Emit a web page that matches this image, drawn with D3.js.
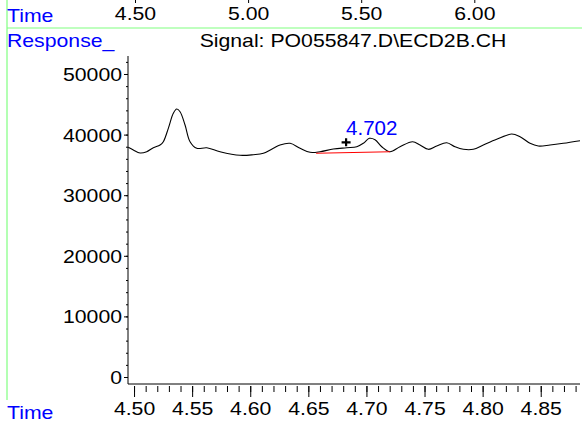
<!DOCTYPE html>
<html>
<head>
<meta charset="utf-8">
<title>ECD2B</title>
<script src="https://cdn.jsdelivr.net/npm/d3@7"></script>
<style>
  body { margin: 0; background: #fff; }
  text { font-family: "Liberation Sans", Arial, sans-serif; }
</style>
</head>
<body>
<div id="viz"></div>
<script>
// retention time (min) and detector response
var times = [4.495, 4.4994, 4.5052, 4.5109, 4.5166, 4.5224, 4.5252, 4.5295, 4.5338, 4.5367,
  4.5396, 4.5439, 4.5482, 4.5540, 4.5626, 4.5740, 4.5912, 4.6027, 4.6113, 4.6199,
  4.6256, 4.6343, 4.6429, 4.6515, 4.6601, 4.6715, 4.6830, 4.6917, 4.6973, 4.7025,
  4.7074, 4.7132, 4.7203, 4.7289, 4.7398, 4.7461, 4.7533, 4.7605, 4.7691, 4.7762,
  4.7834, 4.7920, 4.8006, 4.8121, 4.8250, 4.8322, 4.8408, 4.8479, 4.8580, 4.8694, 4.8838];
var response = [37900, 37455, 36960, 37175, 37835, 38280, 38825, 41035, 43510, 44220,
  43775, 41580, 38825, 37735, 37835, 37175, 36580, 36680, 36910, 37735,
  38280, 38560, 37735, 37075, 37175, 37620, 37835, 38000, 38560, 39385,
  39160, 38000, 37175, 38000, 38825, 38280, 37570, 38115, 38660, 38000,
  37570, 37570, 38280, 39220, 40095, 39650, 38560, 38115, 38280, 38560, 38990];

// integration baseline of the labelled peak
var baseTimes = [4.6567, 4.7203];
var baseValues = [36910, 37175];
var peakTime = 4.702, peakValue = 39385, peakLabel = '4.702';
var markTime = 4.6825, markValue = 38725;

var xMajor = [4.50, 4.55, 4.60, 4.65, 4.70, 4.75, 4.80, 4.85];
var xMinor = [4.50, 4.51, 4.52, 4.53, 4.54, 4.55, 4.56, 4.57, 4.58, 4.59, 4.60, 4.61, 4.62,
  4.63, 4.64, 4.65, 4.66, 4.67, 4.68, 4.69, 4.70, 4.71, 4.72, 4.73, 4.74, 4.75, 4.76, 4.77,
  4.78, 4.79, 4.80, 4.81, 4.82, 4.83, 4.84, 4.85, 4.86, 4.87, 4.88];
var yMajor = [0, 10000, 20000, 30000, 40000, 50000];
var yMinor = [0, 2000, 4000, 6000, 8000, 10000, 12000, 14000, 16000, 18000, 20000, 22000,
  24000, 26000, 28000, 30000, 32000, 34000, 36000, 38000, 40000, 42000, 44000, 46000,
  48000, 50000, 52000];
var topTicks = [4.50, 5.00, 5.50, 6.00];

var title = 'Signal: PO055847.D\\ECD2B.CH';

var width = 588, height = 423;
var SX = 1.18; // the original font is drawn wider than Arial
var blue = '#0000ff', green = '#80ff80';

var svg = d3.select('#viz').append('svg')
  .attr('width', width).attr('height', height);

function stretch(sel){
  sel.attr('transform', function(){
    var x = +this.getAttribute('x') || 0;
    return 'translate(' + x + ',0) scale(' + SX + ',1) translate(' + (-x) + ',0)';
  });
}

var x = d3.scaleLinear().domain([4.4948, 4.8838]).range([128, 580]);
var y = d3.scaleLinear().domain([-1155, 52970]).range([384, 56]);
var xTop = d3.scaleLinear().domain([4.5, 6.0]).range([135.5, 474.8]);

// frame lines
svg.append('line').attr('x1', 7).attr('x2', 7).attr('y1', 0).attr('y2', 400)
  .attr('stroke', green).attr('stroke-width', 1.2);
svg.append('line').attr('x1', 7).attr('x2', 582).attr('y1', 28).attr('y2', 28)
  .attr('stroke', green).attr('stroke-width', 1.2);

// top overview time axis
var gt = svg.append('g');
gt.selectAll('line').data(topTicks).join('line')
  .attr('x1', function(d){ return xTop(d); }).attr('x2', function(d){ return xTop(d); })
  .attr('y1', 0).attr('y2', 3).attr('stroke', '#000');
gt.selectAll('text').data(topTicks).join('text')
  .attr('x', function(d){ return xTop(d); }).attr('y', 20)
  .attr('text-anchor', 'middle').attr('font-size', 18)
  .text(function(d){ return d3.format('.2f')(d); })
  .call(stretch);

svg.append('text').attr('x', 7).attr('y', 22.5).attr('font-size', 18)
  .attr('fill', blue).text('Time').call(stretch);
svg.append('text').attr('x', 7).attr('y', 47).attr('font-size', 18)
  .attr('fill', blue).text('Response_').call(stretch);
svg.append('text').attr('x', 353).attr('y', 47).attr('font-size', 18)
  .attr('text-anchor', 'middle').text(title).call(stretch);
svg.append('text').attr('x', 7).attr('y', 419).attr('font-size', 18)
  .attr('fill', blue).text('Time').call(stretch);

// bottom axis
var gxm = svg.append('g').attr('transform', 'translate(0,384)')
  .call(d3.axisBottom(x).tickValues(xMinor).tickSize(8).tickSizeOuter(0).tickFormat(''));
gxm.select('.domain').remove();
var gx = svg.append('g').attr('transform', 'translate(0,384)')
  .call(d3.axisBottom(x).tickValues(xMajor).tickSize(13).tickSizeOuter(0).tickFormat(d3.format('.2f')));
gx.select('.domain').attr('d', 'M128,0H580');
gxm.selectAll('.tick line').attr('y1', 2);
gx.selectAll('.tick line').attr('y1', 2);
gx.selectAll('text').attr('y', 31).attr('dy', 0)
  .attr('font-size', 18).attr('font-family', null).call(stretch);

// left axis
var gym = svg.append('g').attr('transform', 'translate(128,0)')
  .call(d3.axisLeft(y).tickValues(yMinor).tickSize(2).tickSizeOuter(0).tickFormat(''));
gym.select('.domain').remove();
var gy = svg.append('g').attr('transform', 'translate(128,0)')
  .call(d3.axisLeft(y).tickValues(yMajor).tickSize(4).tickSizeOuter(0).tickFormat(d3.format('d')));
gy.select('.domain').attr('d', 'M0,56V384');
gy.selectAll('text').attr('x', -6).attr('dy', '0.36em')
  .attr('font-size', 18).attr('font-family', null).call(stretch);
svg.selectAll('.domain').attr('stroke', '#000');

// signal trace
var line = d3.line()
  .x(function(d){ return x(d[0]); })
  .y(function(d){ return y(d[1]); })
  .curve(d3.curveCatmullRom);
svg.append('path')
  .datum(d3.zip(times, response))
  .attr('d', line)
  .attr('fill', 'none').attr('stroke', '#000').attr('stroke-width', 1.1);

// baseline, marker and peak label
svg.append('path')
  .datum(d3.zip(baseTimes, baseValues))
  .attr('d', d3.line().x(function(d){ return x(d[0]); }).y(function(d){ return y(d[1]); }))
  .attr('stroke', '#ff0000').attr('stroke-width', 1.1).attr('fill', 'none');

var mx = x(markTime), my = y(markValue);
svg.append('path')
  .attr('d', 'M' + (mx - 4.5) + ',' + my + 'H' + (mx + 4.5) + 'M' + mx + ',' + (my - 4) + 'V' + (my + 4))
  .attr('stroke', '#000').attr('stroke-width', 2.2);

svg.append('text').attr('x', x(peakTime) + 3).attr('y', y(peakValue) - 3)
  .attr('text-anchor', 'middle').attr('font-size', 20.5).attr('fill', blue)
  .text(peakLabel);
</script>
</body>
</html>
